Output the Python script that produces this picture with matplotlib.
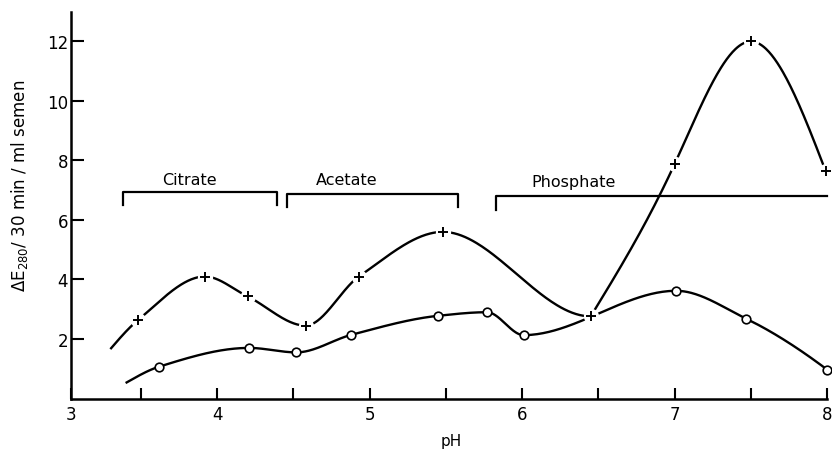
import numpy as np
import matplotlib
matplotlib.use("Agg")
import matplotlib.pyplot as plt

# ---- data ----
plus_ph = [3.48, 3.92, 4.20, 4.58, 4.93, 5.48, 6.45, 7.00, 7.50, 7.99]
plus_val = [2.63, 4.10, 3.43, 2.45, 4.10, 5.60, 2.76, 7.88, 12.00, 7.65]
plus_curve_start = (3.30, 1.66)
plus_corner_ph = 6.45

circ_ph = [3.62, 4.21, 4.52, 4.88, 5.45, 5.77, 6.01, 7.01, 7.47, 8.00]
circ_val = [1.07, 1.70, 1.55, 2.14, 2.78, 2.90, 2.13, 3.62, 2.68, 0.97]
circ_curve_start = (3.40, 0.52)

buffers = ["Citrate", "Acetate", "Phosphate"]
buf_start = [3.38, 4.46, 5.83]
buf_end = [4.39, 5.58, 8.00]
buf_level = [6.95, 6.87, 6.80]
buf_right_tick = [True, True, False]
buf_label_ph = [3.82, 4.85, 6.34]
buf_label_val = [7.35, 7.35, 7.28]

x_major = [4, 5, 6, 7, 8]
x_minor = [3.5, 4.5, 5.5, 6.5, 7.5]
y_ticks = [2, 4, 6, 8, 10, 12]


def pchip_tangents(x, y):
    x = np.asarray(x, float); y = np.asarray(y, float)
    h = np.diff(x); d = np.diff(y) / h
    m = np.zeros_like(y)
    for k in range(1, len(x) - 1):
        if d[k - 1] * d[k] > 0:
            w1 = 2 * h[k] + h[k - 1]
            w2 = h[k] + 2 * h[k - 1]
            m[k] = (w1 + w2) / (w1 / d[k - 1] + w2 / d[k])

    def end(h0, h1, d0, d1):
        mm = ((2 * h0 + h1) * d0 - h0 * d1) / (h0 + h1)
        if np.sign(mm) != np.sign(d0):
            mm = 0.0
        elif np.sign(d0) != np.sign(d1) and abs(mm) > abs(3 * d0):
            mm = 3 * d0
        return mm

    if len(x) > 2:
        m[0] = end(h[0], h[1], d[0], d[1])
        m[-1] = end(h[-1], h[-2], d[-1], d[-2])
    else:
        m[0] = m[-1] = d[0]
    return m


def natural_tangents(x, y):
    x = np.asarray(x, float); y = np.asarray(y, float)
    n = len(x)
    h = np.diff(x)
    A = np.zeros((n, n)); b = np.zeros(n)
    A[0, 0] = 1; A[-1, -1] = 1
    for i in range(1, n - 1):
        A[i, i - 1] = h[i - 1]
        A[i, i] = 2 * (h[i - 1] + h[i])
        A[i, i + 1] = h[i]
        b[i] = 6 * ((y[i + 1] - y[i]) / h[i] - (y[i] - y[i - 1]) / h[i - 1])
    M = np.linalg.solve(A, b)  # second derivatives
    m = np.zeros(n)
    for i in range(n - 1):
        m[i] = (y[i + 1] - y[i]) / h[i] - h[i] * (2 * M[i] + M[i + 1]) / 6
    i = n - 2
    m[-1] = (y[i + 1] - y[i]) / h[i] + h[i] * (M[i] + 2 * M[i + 1]) / 6
    return m


def hermite(x, y, m, n=80):
    x = np.asarray(x, float); y = np.asarray(y, float)
    xs, ys = [], []
    for k in range(len(x) - 1):
        t = np.linspace(0, 1, n)
        hk = x[k + 1] - x[k]
        h00 = 2 * t**3 - 3 * t**2 + 1
        h10 = t**3 - 2 * t**2 + t
        h01 = -2 * t**3 + 3 * t**2
        h11 = t**3 - t**2
        xs.append(x[k] + t * hk)
        ys.append(h00 * y[k] + h10 * hk * m[k] + h01 * y[k + 1] + h11 * hk * m[k + 1])
    return np.concatenate(xs), np.concatenate(ys)


fig = plt.figure(figsize=(8.32, 4.52), dpi=100)
ax = fig.add_axes([70.7 / 832, 52.5 / 452, 1 - 70.7 / 832, (399.5 - 12.7) / 452])
ax.set_xlim(3.04, 8.032)
ax.set_ylim(0, 13)

lw = 1.7
# plus curve: smooth, with a corner at the minimum near pH 6.45
px_all = [plus_curve_start[0]] + plus_ph
py_all = [plus_curve_start[1]] + plus_val
xa, ya = hermite(px_all, py_all, pchip_tangents(px_all, py_all))
sel = xa <= plus_corner_ph + 1e-9
ax.plot(xa[sel], ya[sel], color="black", lw=lw, zorder=2, solid_capstyle="butt")
rx = [p for p in plus_ph if p >= plus_corner_ph]
ry = [v for p, v in zip(plus_ph, plus_val) if p >= plus_corner_ph]
xb, yb = hermite(rx, ry, natural_tangents(rx, ry))
ax.plot(xb, yb, color="black", lw=lw, zorder=2, solid_capstyle="butt")

# circle curve
cx_all = [circ_curve_start[0]] + circ_ph
cy_all = [circ_curve_start[1]] + circ_val
xc, yc = hermite(cx_all, cy_all, pchip_tangents(cx_all, cy_all))
ax.plot(xc, yc, color="black", lw=lw, zorder=2, solid_capstyle="butt")

# markers
ax.plot(plus_ph, plus_val, ls="none", marker="o", ms=11, mfc="white", mec="none", zorder=3, clip_on=False)
ax.plot(plus_ph, plus_val, ls="none", marker="+", ms=6.5, mew=1.4, color="black", zorder=4, clip_on=False)
ax.plot(circ_ph, circ_val, ls="none", marker="o", ms=6.2, mfc="white", mec="black", mew=1.2, zorder=4, clip_on=False)

# buffer brackets
drop = 0.45
for name, s, e, lv, rt, lx, ly in zip(buffers, buf_start, buf_end, buf_level,
                                       buf_right_tick, buf_label_ph, buf_label_val):
    xs = [s, s, e] + ([e] if rt else [])
    ys = [lv - drop, lv, lv] + ([lv - drop] if rt else [])
    ax.plot(xs, ys, color="black", lw=1.6, zorder=1, clip_on=False)
    ax.text(lx, ly, name, ha="center", va="center", fontsize=11.5)

# axes styling
for s in ["top", "right"]:
    ax.spines[s].set_visible(False)
for s in ["left", "bottom"]:
    ax.spines[s].set_linewidth(1.8)
ax.spines["bottom"].set_bounds(3.04, 8.0)

ax.set_xticks([3.04] + x_major)
ax.set_xticklabels(["3"] + [str(v) for v in x_major])
ax.set_xticks(x_minor, minor=True)
ax.tick_params(axis="x", which="both", direction="in", length=8, width=1.5, pad=5, labelsize=12)
ax.set_yticks(y_ticks)
ax.set_yticklabels([str(v) for v in y_ticks])
ax.tick_params(axis="y", direction="in", length=9, width=1.5, pad=2, labelsize=12)

fig.text(451 / 832, 1 - 442 / 452, "pH", ha="center", va="center", fontsize=11)
fig.text(20 / 832, 1 - 186 / 452, r"$\Delta$E$_{280}$/ 30 min / ml semen", rotation=90,
         ha="center", va="center", fontsize=12)

fig.savefig("out.png", dpi=100)
